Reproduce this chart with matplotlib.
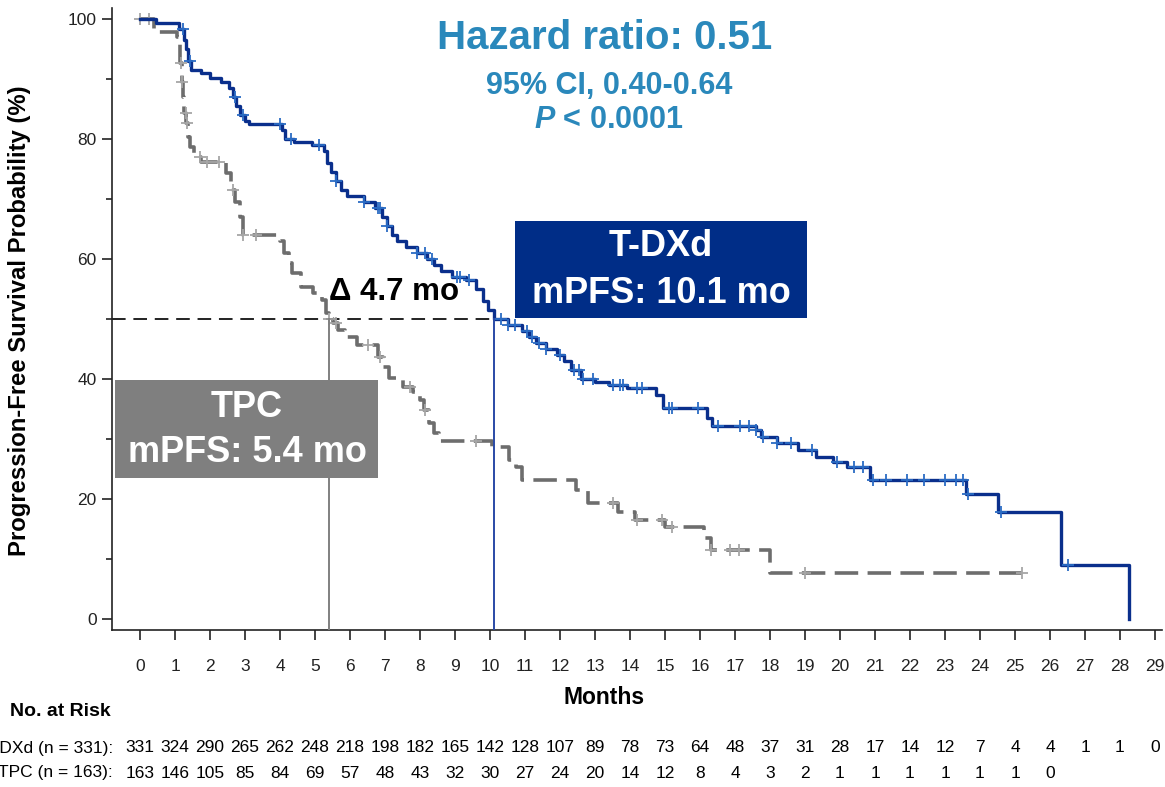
import matplotlib
matplotlib.use('Agg')
import matplotlib.pyplot as plt
import matplotlib.transforms as mtransforms
from matplotlib.patches import Rectangle
import numpy as np

plt.rcParams['font.family'] = ['Liberation Sans', 'DejaVu Sans']
plt.rcParams['mathtext.fontset'] = 'custom'
plt.rcParams['mathtext.it'] = 'Liberation Sans:italic:bold'

# ---- data ----
months = list(range(30))

tdxd_time = [0, 0.45, 1.1, 1.25, 1.3, 1.38, 1.45, 1.75, 2.0, 2.3, 2.55, 2.65, 2.75, 2.85,
             3.0, 3.1, 4.05, 4.15, 4.4, 4.9, 5.25, 5.35, 5.45, 5.6, 5.75, 5.9, 6.4, 6.7,
             6.9, 7.05, 7.2, 7.35, 7.6, 7.9, 8.2, 8.4, 8.6, 8.9, 9.3, 9.6, 9.8, 9.95,
             10.1, 10.5, 10.9, 11.1, 11.3, 11.6, 11.9, 12.1, 12.3, 12.6, 13.0, 13.4, 13.9,
             14.75, 14.95, 16.2, 16.35, 17.6, 17.75, 18.2, 18.8, 19.3, 19.8, 20.2, 20.85,
             23.6, 24.5, 26.3, 28.25]
tdxd_surv = [100, 99.3, 98.3, 96.5, 95, 93, 91.5, 91, 90.2, 89.5, 88.5, 87, 85.5, 84,
             83, 82.5, 81.5, 80, 79.5, 79, 78, 76, 74.5, 73, 71.5, 70.5, 69.5, 68.5,
             67, 65.5, 64, 63, 62, 61, 60, 59, 58, 57, 56.5, 55, 53, 51.5,
             50, 49, 48, 47, 46, 45, 44, 43, 41.5, 40, 39.5, 39, 38.5,
             37.3, 35.2, 33.5, 32.2, 31.5, 30.3, 29.3, 28.2, 27, 26.2, 25.3, 23.2,
             20.8, 17.8, 9.0, 0]
tdxd_cens = [1.23, 1.43, 2.7, 2.95, 4.0, 4.3, 5.1, 5.6, 6.4, 6.8, 6.85, 7.05, 7.9, 8.15,
             8.35, 9.05, 9.15, 9.4, 10.3, 10.5, 10.7, 11.05, 11.2, 11.4, 11.6, 12.0, 12.4,
             12.55, 12.65, 12.95, 13.5, 13.7, 13.8, 14.2, 14.35, 15.1, 15.2, 15.95, 16.5,
             17.15, 17.4, 17.6, 17.8, 18.2, 18.6, 19.2, 19.9, 20.4, 20.65, 20.95, 21.3,
             21.9, 22.4, 23.0, 23.3, 23.5, 23.65, 24.6, 26.5]

tpc_time = [0, 0.4, 1.05, 1.15, 1.2, 1.23, 1.27, 1.32, 1.37, 1.43, 1.55, 1.75, 2.45, 2.6,
            2.7, 2.85, 2.95, 4.0, 4.1, 4.25, 4.35, 4.6, 4.95, 5.2, 5.3, 5.4, 5.5, 5.65,
            5.85, 6.2, 6.8, 6.95, 7.1, 7.5, 7.8, 8.0, 8.1, 8.25, 8.4, 8.55, 10.05, 10.55,
            10.75, 10.9, 12.45, 12.8, 13.65, 14.15, 15.0, 16.1, 16.3, 18.0, 25.2]
tpc_surv = [100, 97.8, 97, 92.7, 89.5, 87, 84.3, 82.7, 80.3, 78.7, 77, 76.2, 74.3, 71.5,
            69.5, 67, 64, 63, 61, 59.3, 57.7, 55.3, 54.3, 53.2, 51, 50, 49.3, 48.2,
            47, 45.7, 43.7, 42, 40.2, 38.7, 37.8, 36.5, 34.8, 32.7, 31, 29.7, 28.7, 26.5,
            25.3, 23.2, 21.5, 19.3, 17.8, 16.5, 15.3, 13.5, 11.5, 7.7, 7.7]
tpc_cens = [0.0, 0.25, 1.17, 1.2, 1.3, 1.35, 1.7, 1.9, 2.25, 2.65, 2.95, 3.3, 5.4, 5.6,
            6.5, 6.85, 7.7, 8.15, 9.6, 13.5, 14.2, 14.9, 15.2, 16.3, 16.85, 17.1, 19.0, 25.2]

tdxd_risk = [331, 324, 290, 265, 262, 248, 218, 198, 182, 165, 142, 128, 107, 89, 78,
             73, 64, 48, 37, 31, 28, 17, 14, 12, 7, 4, 4, 1, 1, 0]
tpc_risk = [163, 146, 105, 85, 84, 69, 57, 48, 43, 32, 30, 27, 24, 20, 14, 12, 8, 4, 3,
            2, 1, 1, 1, 1, 1, 1, 0]

tdxd_median = 10.1
tpc_median = 5.4

NAVY = '#0a2f8c'
NAVY_MARK = '#2b6cc4'
GREY = '#6d6d6d'
GREY_MARK = '#a6a6a6'
TEAL = '#2a88bb'


def step_value(times, surv, t):
    i = np.searchsorted(times, t, side='right') - 1
    return np.asarray(surv)[i]


W, H = 1165, 787
fig = plt.figure(figsize=(W / 100, H / 100), dpi=100)
ax = fig.add_axes([112 / W, 1 - 630 / H, 1050 / W, 622 / H])

ax.plot(tpc_time, tpc_surv, drawstyle='steps-post', color=GREY, lw=2.6,
        linestyle=(0, (6.5, 2.6)), zorder=3)
ax.plot(tpc_cens, [step_value(tpc_time, tpc_surv, t) for t in tpc_cens], '+',
        color=GREY_MARK, ms=8, mew=1.3, zorder=4)
ax.plot(tdxd_time, tdxd_surv, drawstyle='steps-post', color=NAVY, lw=2.4, zorder=5)
ax.plot(tdxd_cens, [step_value(tdxd_time, tdxd_surv, t) for t in tdxd_cens], '+',
        color=NAVY_MARK, ms=8, mew=1.3, zorder=6)

# median lines
ax.plot([-0.8, tdxd_median], [50, 50], color='#222222', lw=1.4, ls=(0, (7, 4)), zorder=2)
ax.plot([tpc_median, tpc_median], [-1.83, 50], color='#808080', lw=1.4, zorder=8)
ax.plot([tdxd_median, tdxd_median], [-1.83, 50], color='#2a4aa6', lw=1.4, zorder=8)

# boxes
ax.add_patch(Rectangle((10.71, 50.2), 8.35, 16.1, facecolor='#002d87', edgecolor='none',
                       zorder=7))
ax.text(14.89, 62, 'T-DXd', color='white', fontsize=26, fontweight='bold',
        ha='center', va='center', zorder=9)
ax.text(14.89, 54.3, 'mPFS: 10.1 mo', color='white', fontsize=26, fontweight='bold',
        ha='center', va='center', zorder=9)
ax.add_patch(Rectangle((-0.71, 23.5), 7.51, 16.3, facecolor='#7f7f7f', edgecolor='none',
                       zorder=7, clip_on=False))
ax.text(3.06, 35.2, 'TPC', color='white', fontsize=26, fontweight='bold',
        ha='center', va='center', zorder=9)
ax.text(3.06, 27.8, 'mPFS: 5.4 mo', color='white', fontsize=26, fontweight='bold',
        ha='center', va='center', zorder=9)
ax.text(5.4, 52.0, 'Δ 4.7 mo', color='black', fontsize=22.5, fontweight='bold',
        ha='left', va='bottom', zorder=9)

ax.set_xlim(-0.8, 29.2)
ax.set_ylim(-1.83, 101.83)
ax.set_xticks(months)
ax.set_yticks([0, 20, 40, 60, 80, 100])
ax.set_yticks([10, 30, 50, 70, 90], minor=True)
ax.tick_params(axis='x', length=7, width=1.2, labelsize=12.5, pad=14, colors='#222222')
ax.tick_params(axis='y', which='major', length=7, width=1.2, labelsize=12.5, pad=4,
               colors='#222222')
ax.tick_params(axis='y', which='minor', length=4, width=1.2, colors='#222222')
for s in ['top', 'right']:
    ax.spines[s].set_visible(False)
for s in ['left', 'bottom']:
    ax.spines[s].set_linewidth(1.2)
    ax.spines[s].set_color('#222222')

# titles and labels
fig.text(20 / W, 1 - 321 / H, 'Progression-Free Survival Probability (%)', rotation=90,
         fontsize=17.2, fontweight='bold', ha='center', va='center')
fig.text(604 / W, 1 - 698 / H, 'Months', fontsize=16.5, fontweight='bold',
         ha='center', va='center')
fig.text(605 / W, 1 - 38 / H, 'Hazard ratio: 0.51', color=TEAL, fontsize=29,
         fontweight='bold', ha='center', va='center')
fig.text(609 / W, 1 - 86 / H, '95% CI, 0.40-0.64', color=TEAL, fontsize=22,
         fontweight='bold', ha='center', va='center')
fig.text(609 / W, 1 - 120 / H, r'$P$ < 0.0001', color=TEAL, fontsize=22,
         fontweight='bold', ha='center', va='center')

# number at risk table
fig.text(10 / W, 1 - 711 / H, 'No. at Risk', fontsize=14, fontweight='bold',
         ha='left', va='center')
trans = mtransforms.blended_transform_factory(ax.transData, fig.transFigure)
y1, y2 = 1 - 748 / H, 1 - 773 / H
fig.text(113 / W, y1, 'T-DXd (n = 331):', fontsize=12.5, ha='right', va='center')
fig.text(113 / W, y2, 'TPC (n = 163):', fontsize=12.5, ha='right', va='center')
for m, n in zip(months, tdxd_risk):
    ax.text(m, y1, str(n), transform=trans, fontsize=12.5, ha='center', va='center',
            clip_on=False)
for m, n in zip(months, tpc_risk):
    ax.text(m, y2, str(n), transform=trans, fontsize=12.5, ha='center', va='center',
            clip_on=False)

fig.savefig('out.png', dpi=100, facecolor='white')
